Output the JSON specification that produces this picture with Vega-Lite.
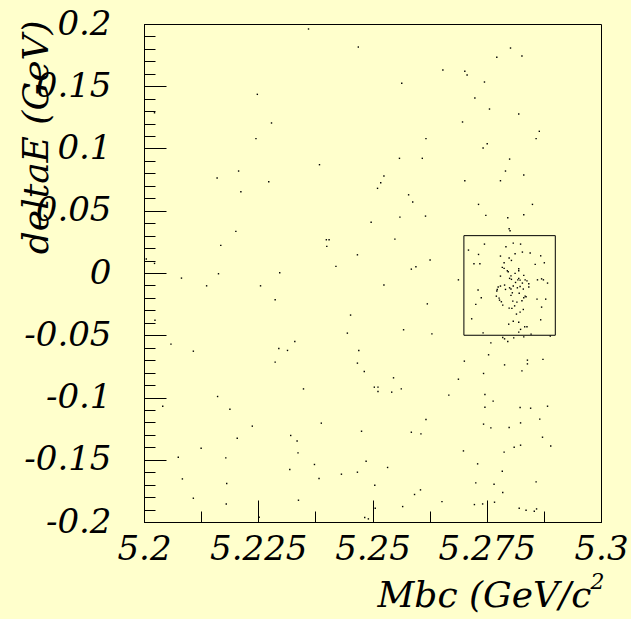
{
  "$schema": "https://vega.github.io/schema/vega-lite/v6.json",
  "width": 457,
  "height": 498,
  "autosize": {"type": "none"},
  "padding": {"left": 144, "top": 24, "right": 30, "bottom": 97},
  "background": "#ffffcc",
  "config": {
    "view": {"stroke": "black", "strokeWidth": 1, "fill": "#ffffcc"},
    "axis": {
      "grid": false,
      "domainColor": "black",
      "domainWidth": 1,
      "tickColor": "black",
      "tickWidth": 1,
      "labelColor": "black",
      "labelFlush": false,
      "labelOverlap": false,
      "labelBound": false,
      "titleColor": "black"
    }
  },
  "resolve": {"axis": {"x": "independent", "y": "independent"}},
  "layer": [
    {
      "data": {"name": "pts", "values": [
        {"Mbc":5.2360,"deltaE":0.1960},{"Mbc":5.2469,"deltaE":0.1815},{"Mbc":5.2248,"deltaE":0.1435},{"Mbc":5.2279,"deltaE":0.1205},
        {"Mbc":5.2245,"deltaE":0.1079},{"Mbc":5.2384,"deltaE":0.0870},{"Mbc":5.2207,"deltaE":0.0819},{"Mbc":5.2160,"deltaE":0.0763},
        {"Mbc":5.2273,"deltaE":0.0733},{"Mbc":5.2212,"deltaE":0.0653},{"Mbc":5.2511,"deltaE":0.0680},{"Mbc":5.2497,"deltaE":0.0407},
        {"Mbc":5.2201,"deltaE":0.0334},{"Mbc":5.2399,"deltaE":0.0267},{"Mbc":5.2405,"deltaE":0.0267},{"Mbc":5.2168,"deltaE":0.0222},
        {"Mbc":5.2400,"deltaE":0.0214},{"Mbc":5.2467,"deltaE":0.0146},{"Mbc":5.2005,"deltaE":0.0112},{"Mbc":5.2023,"deltaE":0.0077},
        {"Mbc":5.2420,"deltaE":0.0053},{"Mbc":5.2163,"deltaE":-0.0006},{"Mbc":5.2297,"deltaE":0.0002},{"Mbc":5.2023,"deltaE":0.1287},
        {"Mbc":5.2802,"deltaE":0.1807},{"Mbc":5.2772,"deltaE":0.1733},{"Mbc":5.2827,"deltaE":0.1743},{"Mbc":5.2654,"deltaE":0.1631},
        {"Mbc":5.2702,"deltaE":0.1620},{"Mbc":5.2707,"deltaE":0.1590},{"Mbc":5.2564,"deltaE":0.1524},{"Mbc":5.2745,"deltaE":0.1534},
        {"Mbc":5.2724,"deltaE":0.1406},{"Mbc":5.2756,"deltaE":0.1317},{"Mbc":5.2820,"deltaE":0.1277},{"Mbc":5.2697,"deltaE":0.1213},
        {"Mbc":5.2865,"deltaE":0.1138},{"Mbc":5.2617,"deltaE":0.1079},{"Mbc":5.2858,"deltaE":0.1079},{"Mbc":5.2751,"deltaE":0.1038},
        {"Mbc":5.2742,"deltaE":0.1004},{"Mbc":5.2559,"deltaE":0.0921},{"Mbc":5.2609,"deltaE":0.0921},{"Mbc":5.2800,"deltaE":0.0915},
        {"Mbc":5.2525,"deltaE":0.0779},{"Mbc":5.2791,"deltaE":0.0819},{"Mbc":5.2831,"deltaE":0.0787},{"Mbc":5.2518,"deltaE":0.0725},
        {"Mbc":5.2702,"deltaE":0.0741},{"Mbc":5.2780,"deltaE":0.0741},{"Mbc":5.2579,"deltaE":0.0628},{"Mbc":5.2588,"deltaE":0.0570},
        {"Mbc":5.2732,"deltaE":0.0551},{"Mbc":5.2850,"deltaE":0.0551},{"Mbc":5.2560,"deltaE":0.0449},{"Mbc":5.2616,"deltaE":0.0457},
        {"Mbc":5.2748,"deltaE":0.0463},{"Mbc":5.2796,"deltaE":0.0444},{"Mbc":5.2831,"deltaE":0.0468},{"Mbc":5.2799,"deltaE":0.0355},
        {"Mbc":5.2801,"deltaE":0.0339},{"Mbc":5.2549,"deltaE":0.0272},{"Mbc":5.2626,"deltaE":0.0104},{"Mbc":5.2595,"deltaE":0.0050},
        {"Mbc":5.2585,"deltaE":0.0031},
        {"Mbc":5.2745,"deltaE":0.0232},{"Mbc":5.2710,"deltaE":0.0184},{"Mbc":5.2792,"deltaE":0.0211},{"Mbc":5.2808,"deltaE":0.0240},
        {"Mbc":5.2824,"deltaE":0.0232},{"Mbc":5.2732,"deltaE":0.0149},{"Mbc":5.2780,"deltaE":0.0136},{"Mbc":5.2812,"deltaE":0.0154},
        {"Mbc":5.2828,"deltaE":0.0168},{"Mbc":5.2845,"deltaE":0.0160},{"Mbc":5.2868,"deltaE":0.0138},{"Mbc":5.2799,"deltaE":0.0120},
        {"Mbc":5.2804,"deltaE":0.0101},{"Mbc":5.2788,"deltaE":0.0082},{"Mbc":5.2722,"deltaE":0.0074},{"Mbc":5.2735,"deltaE":0.0074},
        {"Mbc":5.2856,"deltaE":0.0069},{"Mbc":5.2876,"deltaE":0.0082},{"Mbc":5.2784,"deltaE":0.0045},{"Mbc":5.2788,"deltaE":0.0037},
        {"Mbc":5.2820,"deltaE":0.0034},{"Mbc":5.2820,"deltaE":0.0018},{"Mbc":5.2795,"deltaE":0.0018},{"Mbc":5.2797,"deltaE":0.0010},
        {"Mbc":5.2812,"deltaE":-0.0003},
        {"Mbc":5.2688,"deltaE":-0.0055},{"Mbc":5.2525,"deltaE":-0.0097},{"Mbc":5.2620,"deltaE":-0.0248},{"Mbc":5.2568,"deltaE":-0.0456},
        {"Mbc":5.2630,"deltaE":-0.0489},
        {"Mbc":5.2831,"deltaE":-0.0019},{"Mbc":5.2780,"deltaE":-0.0025},{"Mbc":5.2803,"deltaE":-0.0023},{"Mbc":5.2800,"deltaE":-0.0043},
        {"Mbc":5.2804,"deltaE":-0.0051},{"Mbc":5.2818,"deltaE":-0.0055},{"Mbc":5.2820,"deltaE":-0.0043},{"Mbc":5.2823,"deltaE":-0.0057},
        {"Mbc":5.2834,"deltaE":-0.0055},{"Mbc":5.2838,"deltaE":-0.0063},{"Mbc":5.2861,"deltaE":-0.0055},{"Mbc":5.2870,"deltaE":-0.0047},
        {"Mbc":5.2874,"deltaE":-0.0055},{"Mbc":5.2883,"deltaE":-0.0081},{"Mbc":5.2813,"deltaE":-0.0076},{"Mbc":5.2828,"deltaE":-0.0081},
        {"Mbc":5.2842,"deltaE":-0.0087},{"Mbc":5.2789,"deltaE":-0.0097},{"Mbc":5.2808,"deltaE":-0.0105},{"Mbc":5.2780,"deltaE":-0.0105},
        {"Mbc":5.2775,"deltaE":-0.0113},{"Mbc":5.2823,"deltaE":-0.0108},{"Mbc":5.2817,"deltaE":-0.0119},{"Mbc":5.2842,"deltaE":-0.0113},
        {"Mbc":5.2800,"deltaE":-0.0119},{"Mbc":5.2803,"deltaE":-0.0129},{"Mbc":5.2830,"deltaE":-0.0129},{"Mbc":5.2791,"deltaE":-0.0132},
        {"Mbc":5.2773,"deltaE":-0.0132},{"Mbc":5.2772,"deltaE":-0.0145},{"Mbc":5.2731,"deltaE":-0.0137},{"Mbc":5.2806,"deltaE":-0.0159},
        {"Mbc":5.2821,"deltaE":-0.0162},{"Mbc":5.2771,"deltaE":-0.0186},{"Mbc":5.2803,"deltaE":-0.0180},{"Mbc":5.2834,"deltaE":-0.0186},
        {"Mbc":5.2831,"deltaE":-0.0199},{"Mbc":5.2836,"deltaE":-0.0191},{"Mbc":5.2777,"deltaE":-0.0202},{"Mbc":5.2778,"deltaE":-0.0218},
        {"Mbc":5.2738,"deltaE":-0.0199},{"Mbc":5.2860,"deltaE":-0.0210},{"Mbc":5.2879,"deltaE":-0.0210},{"Mbc":5.2807,"deltaE":-0.0226},
        {"Mbc":5.2816,"deltaE":-0.0234},{"Mbc":5.2782,"deltaE":-0.0231},{"Mbc":5.2827,"deltaE":-0.0223},{"Mbc":5.2726,"deltaE":-0.0252},
        {"Mbc":5.2785,"deltaE":-0.0258},{"Mbc":5.2811,"deltaE":-0.0264},{"Mbc":5.2870,"deltaE":-0.0274},{"Mbc":5.2799,"deltaE":-0.0282},
        {"Mbc":5.2805,"deltaE":-0.0284},{"Mbc":5.2830,"deltaE":-0.0293},{"Mbc":5.2823,"deltaE":-0.0314},{"Mbc":5.2815,"deltaE":-0.0330},
        {"Mbc":5.2717,"deltaE":-0.0368},{"Mbc":5.2868,"deltaE":-0.0376},{"Mbc":5.2808,"deltaE":-0.0387},{"Mbc":5.2820,"deltaE":-0.0395},
        {"Mbc":5.2798,"deltaE":-0.0411},{"Mbc":5.2833,"deltaE":-0.0432},{"Mbc":5.2838,"deltaE":-0.0432},{"Mbc":5.2824,"deltaE":-0.0453},
        {"Mbc":5.2820,"deltaE":-0.0475},{"Mbc":5.2742,"deltaE":-0.0481},{"Mbc":5.2847,"deltaE":-0.0491},{"Mbc":5.2889,"deltaE":-0.0507},
        {"Mbc":5.2785,"deltaE":-0.0518},{"Mbc":5.2789,"deltaE":-0.0529},{"Mbc":5.2809,"deltaE":-0.0521},{"Mbc":5.2796,"deltaE":-0.0550},
        {"Mbc":5.2831,"deltaE":-0.0513},{"Mbc":5.2759,"deltaE":-0.0561},{"Mbc":5.2754,"deltaE":-0.0657},{"Mbc":5.2701,"deltaE":-0.0708},
        {"Mbc":5.2873,"deltaE":-0.0694},{"Mbc":5.2839,"deltaE":-0.0700},{"Mbc":5.2839,"deltaE":-0.0730},{"Mbc":5.2789,"deltaE":-0.0738},
        {"Mbc":5.2827,"deltaE":-0.0786},{"Mbc":5.2743,"deltaE":-0.0807},{"Mbc":5.2688,"deltaE":-0.0853},{"Mbc":5.2546,"deltaE":-0.0842},
        {"Mbc":5.2504,"deltaE":-0.0917},{"Mbc":5.2512,"deltaE":-0.0917},{"Mbc":5.2512,"deltaE":-0.0952},{"Mbc":5.2542,"deltaE":-0.0957},
        {"Mbc":5.2563,"deltaE":-0.0931},{"Mbc":5.2667,"deltaE":-0.0981},{"Mbc":5.2746,"deltaE":-0.0976},{"Mbc":5.2764,"deltaE":-0.1029},
        {"Mbc":5.2746,"deltaE":-0.1078},{"Mbc":5.2823,"deltaE":-0.1080},{"Mbc":5.2846,"deltaE":-0.1086},{"Mbc":5.2883,"deltaE":-0.1070},
        {"Mbc":5.2617,"deltaE":-0.1177},{"Mbc":5.2866,"deltaE":-0.1174},{"Mbc":5.2743,"deltaE":-0.1214},{"Mbc":5.2824,"deltaE":-0.1204},
        {"Mbc":5.2759,"deltaE":-0.1244},{"Mbc":5.2799,"deltaE":-0.1241},{"Mbc":5.2585,"deltaE":-0.1279},{"Mbc":5.2606,"deltaE":-0.1292},
        {"Mbc":5.2872,"deltaE":-0.1319},{"Mbc":5.2890,"deltaE":-0.1389},{"Mbc":5.2810,"deltaE":-0.1399},{"Mbc":5.2824,"deltaE":-0.1383},
        {"Mbc":5.2699,"deltaE":-0.1429},{"Mbc":5.2788,"deltaE":-0.1439},{"Mbc":5.2730,"deltaE":-0.1533},{"Mbc":5.2533,"deltaE":-0.1562},
        {"Mbc":5.2784,"deltaE":-0.1592},{"Mbc":5.2505,"deltaE":-0.1705},{"Mbc":5.2726,"deltaE":-0.1686},{"Mbc":5.2766,"deltaE":-0.1697},
        {"Mbc":5.2858,"deltaE":-0.1678},{"Mbc":5.2605,"deltaE":-0.1742},{"Mbc":5.2592,"deltaE":-0.1779},{"Mbc":5.2785,"deltaE":-0.1763},
        {"Mbc":5.2652,"deltaE":-0.1836},{"Mbc":5.2566,"deltaE":-0.1876},{"Mbc":5.2723,"deltaE":-0.1860},{"Mbc":5.2741,"deltaE":-0.1855},
        {"Mbc":5.2767,"deltaE":-0.1841},{"Mbc":5.2506,"deltaE":-0.1889},{"Mbc":5.2821,"deltaE":-0.1889},{"Mbc":5.2836,"deltaE":-0.1905},
        {"Mbc":5.2854,"deltaE":-0.1913},{"Mbc":5.2859,"deltaE":-0.1895},
        {"Mbc":5.2082,"deltaE":-0.0041},{"Mbc":5.2137,"deltaE":-0.0103},{"Mbc":5.2255,"deltaE":-0.0103},{"Mbc":5.2287,"deltaE":-0.0215},
        {"Mbc":5.2452,"deltaE":-0.0338},{"Mbc":5.2024,"deltaE":-0.0379},{"Mbc":5.2445,"deltaE":-0.0483},{"Mbc":5.2059,"deltaE":-0.0571},
        {"Mbc":5.2108,"deltaE":-0.0628},{"Mbc":5.2330,"deltaE":-0.0550},{"Mbc":5.2295,"deltaE":-0.0606},{"Mbc":5.2314,"deltaE":-0.0622},
        {"Mbc":5.2287,"deltaE":-0.0716},{"Mbc":5.2470,"deltaE":-0.0622},{"Mbc":5.2467,"deltaE":-0.0724},{"Mbc":5.2482,"deltaE":-0.0791},
        {"Mbc":5.2349,"deltaE":-0.0931},{"Mbc":5.2161,"deltaE":-0.0992},{"Mbc":5.2041,"deltaE":-0.1070},{"Mbc":5.2188,"deltaE":-0.1094},
        {"Mbc":5.2237,"deltaE":-0.1230},{"Mbc":5.2388,"deltaE":-0.1206},{"Mbc":5.2476,"deltaE":-0.1271},{"Mbc":5.2204,"deltaE":-0.1327},
        {"Mbc":5.2321,"deltaE":-0.1305},{"Mbc":5.2335,"deltaE":-0.1349},{"Mbc":5.2125,"deltaE":-0.1407},{"Mbc":5.2337,"deltaE":-0.1445},
        {"Mbc":5.2075,"deltaE":-0.1480},{"Mbc":5.2179,"deltaE":-0.1485},{"Mbc":5.2373,"deltaE":-0.1538},{"Mbc":5.2486,"deltaE":-0.1512},
        {"Mbc":5.2319,"deltaE":-0.1578},{"Mbc":5.2432,"deltaE":-0.1616},{"Mbc":5.2467,"deltaE":-0.1600},{"Mbc":5.2084,"deltaE":-0.1654},
        {"Mbc":5.2181,"deltaE":-0.1691},{"Mbc":5.2383,"deltaE":-0.1651},{"Mbc":5.2108,"deltaE":-0.1809},{"Mbc":5.2338,"deltaE":-0.1825},
        {"Mbc":5.2180,"deltaE":-0.1855},{"Mbc":5.2483,"deltaE":-0.1964},{"Mbc":5.2491,"deltaE":-0.1975},{"Mbc":5.2252,"deltaE":-0.1962}
      ]},
      "mark": {"type": "square", "size": 2, "color": "black", "opacity": 1, "clip": true},
      "encoding": {
        "x": {
          "field": "Mbc", "type": "quantitative",
          "scale": {"domain": [5.2, 5.3], "nice": false, "zero": false},
          "axis": {
            "orient": "bottom",
            "values": [5.2, 5.225, 5.25, 5.275, 5.3],
            "labelExpr": "'' + datum.value",
            "labelFont": "DejaVu Serif",
            "labelFontStyle": "italic",
            "labelFontSize": 34,
            "tickSize": -22,
            "labelPadding": 59,
            "labelAlign": "center",
            "labelBaseline": "alphabetic",
            "title": "Mbc (GeV/c",
            "titleFont": "DejaVu Serif",
            "titleFontStyle": "italic",
            "titleFontWeight": "normal",
            "titleFontSize": 36,
            "titleX": 233,
            "titleY": 84,
            "titleAlign": "left",
            "titleBaseline": "alphabetic"
          }
        },
        "y": {
          "field": "deltaE", "type": "quantitative",
          "scale": {"domain": [-0.2, 0.2], "nice": false, "zero": false},
          "axis": {
            "orient": "left",
            "values": [-0.2,-0.15,-0.1,-0.05,0,0.05,0.1,0.15,0.2],
            "labelExpr": "'' + datum.value",
            "labelFont": "DejaVu Serif",
            "labelFontStyle": "italic",
            "labelFontSize": 34,
            "tickSize": -22,
            "labelPadding": 55,
            "labelBaseline": "middle",
            "title": "deltaE (GeV)",
            "titleFont": "DejaVu Serif",
            "titleFontStyle": "italic",
            "titleFontWeight": "normal",
            "titleFontSize": 36,
            "titleX": -97,
            "titleY": -4,
            "titleAngle": -90,
            "titleAlign": "right",
            "titleBaseline": "alphabetic"
          }
        }
      }
    },
    {
      "data": {"name": "box", "values": [{"m1": 5.27, "m2": 5.29, "e1": -0.05, "e2": 0.03}]},
      "mark": {"type": "rect", "fillOpacity": 0, "stroke": "black", "strokeWidth": 1},
      "encoding": {
        "x": {
          "field": "m1", "type": "quantitative",
          "axis": {
            "orient": "bottom",
            "values": [5.2, 5.2125, 5.225, 5.2375, 5.25, 5.2625, 5.275, 5.2875, 5.3],
            "tickSize": -11,
            "labels": false,
            "domain": false,
            "title": "2",
            "titleFont": "DejaVu Serif",
            "titleFontStyle": "italic",
            "titleFontWeight": "normal",
            "titleFontSize": 22,
            "titleX": 446,
            "titleY": 66,
            "titleAlign": "left",
            "titleBaseline": "alphabetic"
          }
        },
        "x2": {"field": "m2"},
        "y": {
          "field": "e1", "type": "quantitative",
          "axis": {
            "orient": "left",
            "values": [-0.2,-0.19,-0.18,-0.17,-0.16,-0.15,-0.14,-0.13,-0.12,-0.11,-0.1,-0.09,-0.08,-0.07,-0.06,-0.05,-0.04,-0.03,-0.02,-0.01,0,0.01,0.02,0.03,0.04,0.05,0.06,0.07,0.08,0.09,0.1,0.11,0.12,0.13,0.14,0.15,0.16,0.17,0.18,0.19,0.2],
            "tickSize": -11,
            "labels": false,
            "domain": false,
            "title": null
          }
        },
        "y2": {"field": "e2"}
      }
    }
  ]
}
